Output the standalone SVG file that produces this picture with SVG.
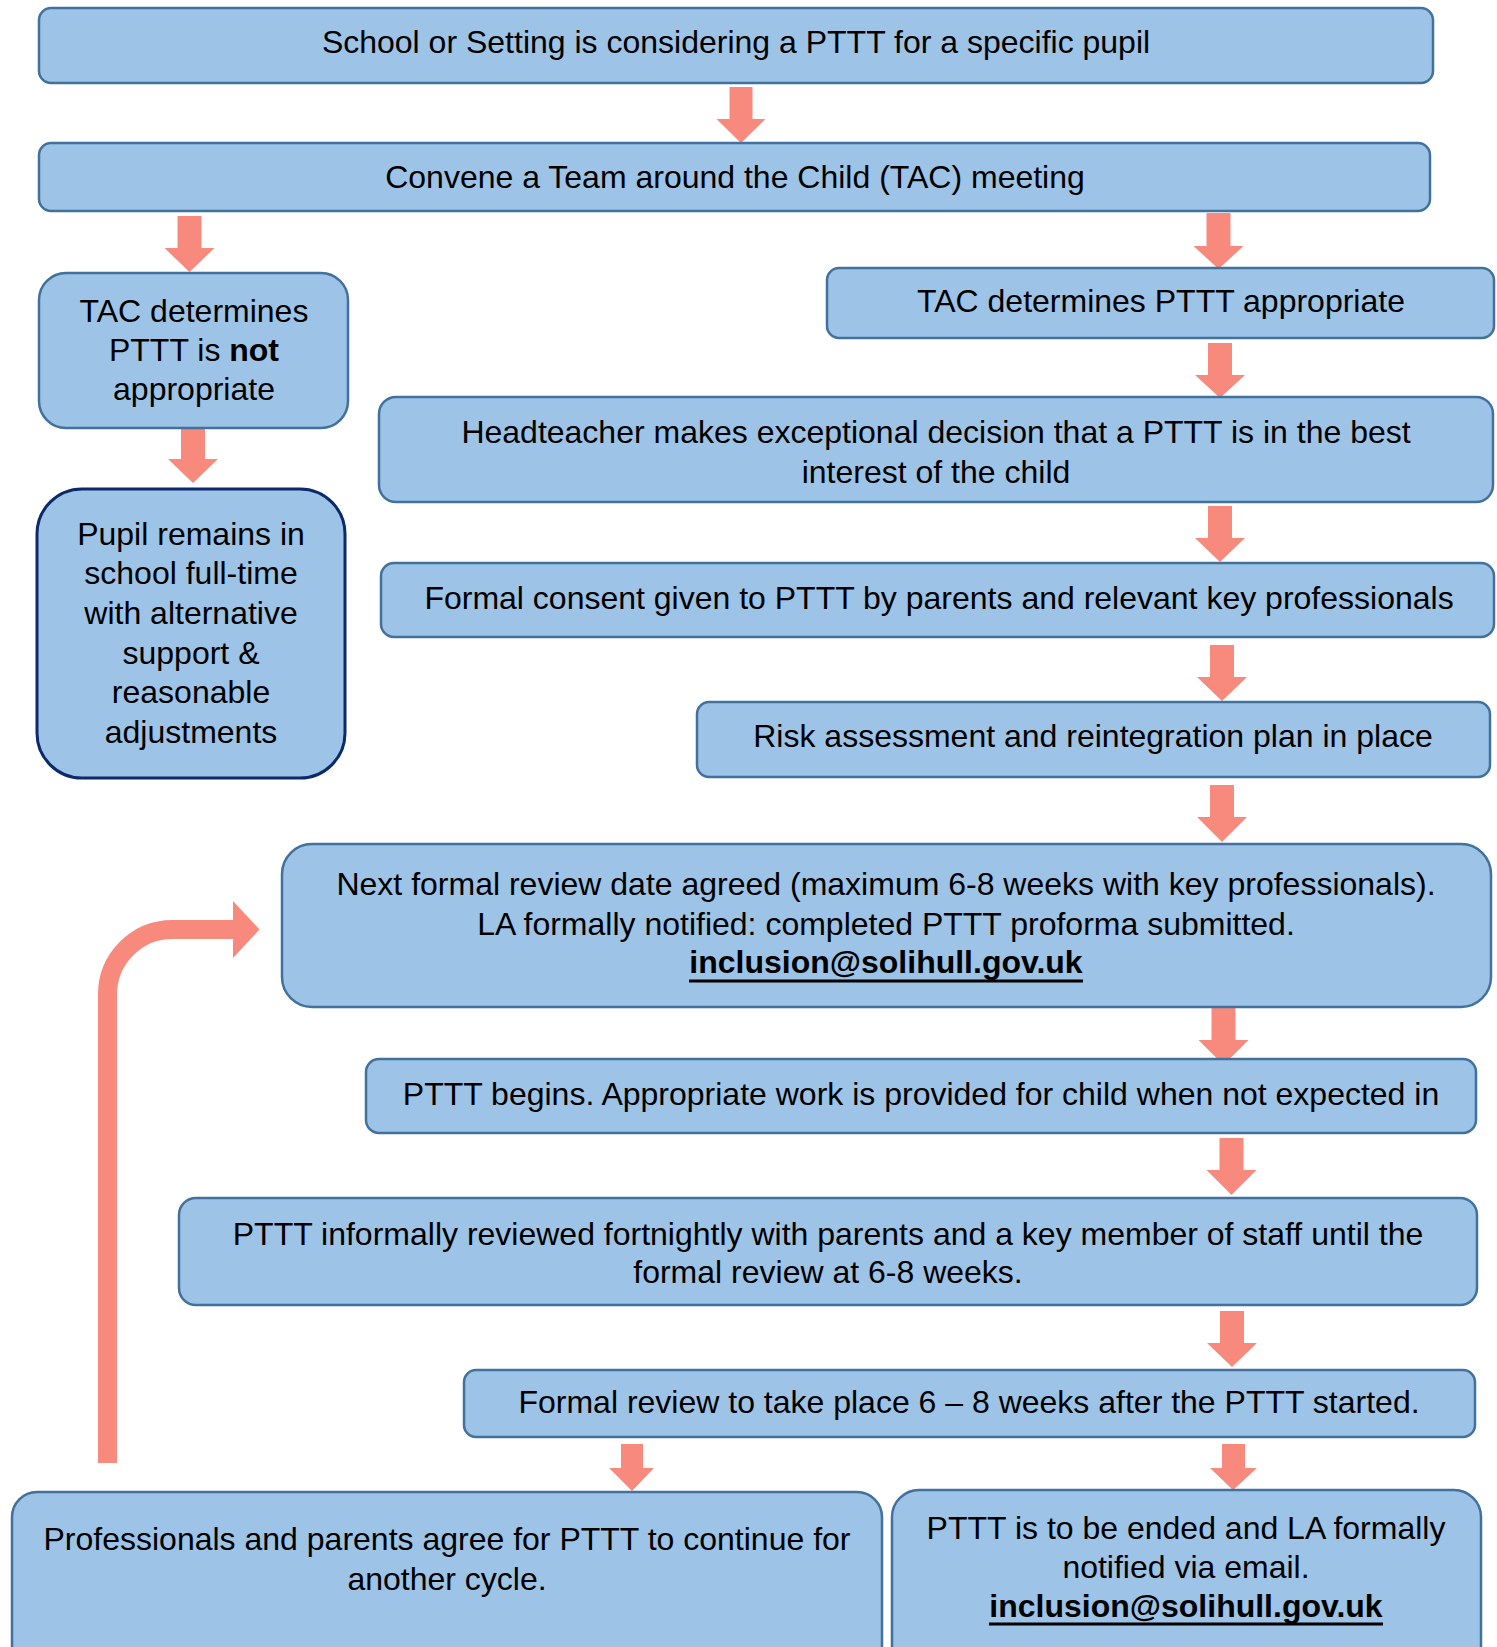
<svg xmlns="http://www.w3.org/2000/svg" width="1497" height="1647" viewBox="0 0 1497 1647">
<style>
.box{fill:#9DC3E6;stroke:#41719C;stroke-width:2.5}
.box2{fill:#9DC3E6;stroke:#0C2A6A;stroke-width:3}
.t{font-family:"Liberation Sans",Arial,sans-serif;font-size:32px;fill:#000;text-anchor:middle}
.b{font-weight:bold}
.u{font-weight:bold}
.ul{stroke:#000;stroke-width:3}
.arr{fill:#F78A7D}
</style>
<rect width="1497" height="1647" fill="#fff"/>
<g id="connectors">
<polygon class="arr" points="729.5,87 752.5,87 752.5,119 765.5,119 741,143 716.5,119 729.5,119"/>
<polygon class="arr" points="177.5,216 201.5,216 201.5,248 214.5,248 189.5,272 164.5,248 177.5,248"/>
<polygon class="arr" points="1206.5,213 1230.5,213 1230.5,246 1243.5,246 1218.5,269 1193.5,246 1206.5,246"/>
<polygon class="arr" points="1208,343 1232,343 1232,375 1245,375 1220,398 1195,375 1208,375"/>
<polygon class="arr" points="181,428 205,428 205,459 218,459 193,483 168,459 181,459"/>
<polygon class="arr" points="1208,506 1232,506 1232,538 1245,538 1220,562 1195,538 1208,538"/>
<polygon class="arr" points="1210,645 1234,645 1234,677 1247,677 1222,701 1197,677 1210,677"/>
<polygon class="arr" points="1210,785 1234,785 1234,817 1247,817 1222,842 1197,817 1210,817"/>
<polygon class="arr" points="1211.5,1008 1235.5,1008 1235.5,1040 1248.5,1040 1223.5,1065 1198.5,1040 1211.5,1040"/>
<polygon class="arr" points="1219.5,1138 1243.5,1138 1243.5,1170 1256.5,1170 1231.5,1195 1206.5,1170 1219.5,1170"/>
<polygon class="arr" points="1220,1311 1244,1311 1244,1343 1257,1343 1232,1367 1207,1343 1220,1343"/>
<polygon class="arr" points="621,1444 643,1444 643,1468 654,1468 632,1491 609,1468 621,1468"/>
<polygon class="arr" points="1222,1444 1245,1444 1245,1468 1257,1468 1233,1490 1210,1468 1222,1468"/>
<path d="M107.5,1463 V995 A65,65 0 0 1 172.5,929.5 H235" fill="none" stroke="#F78A7D" stroke-width="19"/>
<polygon class="arr" points="233,901 259.5,929.5 233,958"/>
</g>
<g id="n1"><rect class="box" x="39" y="8" width="1394" height="75" rx="12"/><text class="t" x="736" y="53">School or Setting is considering a PTTT for a specific pupil</text></g>
<g id="n2"><rect class="box" x="39" y="143" width="1391" height="68" rx="12"/><text class="t" x="735" y="188">Convene a Team around the Child (TAC) meeting</text></g>
<g id="n3"><rect class="box" x="39" y="273" width="309" height="155" rx="27"/><text class="t" x="194" y="322">TAC determines</text><text class="t" x="194" y="361">PTTT is <tspan class="b">not</tspan></text><text class="t" x="194" y="400">appropriate</text></g>
<g id="n4"><rect class="box" x="827" y="268" width="667" height="70" rx="12"/><text class="t" x="1161" y="312">TAC determines PTTT appropriate</text></g>
<g id="n5"><rect class="box2" x="37" y="489" width="308" height="289" rx="45"/><text class="t" x="191" y="545">Pupil remains in</text><text class="t" x="191" y="584">school full-time</text><text class="t" x="191" y="624">with alternative</text><text class="t" x="191" y="664">support &amp;</text><text class="t" x="191" y="703">reasonable</text><text class="t" x="191" y="743">adjustments</text></g>
<g id="n6"><rect class="box" x="379" y="397" width="1114" height="105" rx="17"/><text class="t" x="936" y="443">Headteacher makes exceptional decision that a PTTT is in the best</text><text class="t" x="936" y="483">interest of the child</text></g>
<g id="n7"><rect class="box" x="381" y="563" width="1113" height="74" rx="13"/><text class="t" x="939" y="609">Formal consent given to PTTT by parents and relevant key professionals</text></g>
<g id="n8"><rect class="box" x="697" y="702" width="793" height="75" rx="12"/><text class="t" x="1093" y="747">Risk assessment and reintegration plan in place</text></g>
<g id="n9"><rect class="box" x="282" y="844" width="1209" height="163" rx="30"/><text class="t" x="886" y="895">Next formal review date agreed (maximum 6-8 weeks with key professionals).</text><text class="t" x="886" y="935">LA formally notified: completed PTTT proforma submitted.</text><text class="t u" x="886" y="973">inclusion@solihull.gov.uk</text><line class="ul" x1="689" y1="981" x2="1083" y2="981"/></g>
<g id="n10"><rect class="box" x="366" y="1059" width="1110" height="74" rx="13"/><text class="t" x="921" y="1105">PTTT begins. Appropriate work is provided for child when not expected in</text></g>
<g id="n11"><rect class="box" x="179" y="1198" width="1298" height="107" rx="17"/><text class="t" x="828" y="1245">PTTT informally reviewed fortnightly with parents and a key member of staff until the</text><text class="t" x="828" y="1283">formal review at 6-8 weeks.</text></g>
<g id="n12"><rect class="box" x="464" y="1370" width="1011" height="67" rx="12"/><text class="t" x="969" y="1413">Formal review to take place 6 – 8 weeks after the PTTT started.</text></g>
<g id="n13"><rect class="box" x="12" y="1492" width="870" height="190" rx="25"/><text class="t" x="447" y="1550">Professionals and parents agree for PTTT to continue for</text><text class="t" x="447" y="1590">another cycle.</text></g>
<g id="n14"><rect class="box" x="892" y="1490" width="589" height="190" rx="27"/><text class="t" x="1186" y="1539">PTTT is to be ended and LA formally</text><text class="t" x="1186" y="1578">notified via email.</text><text class="t u" x="1186" y="1617">inclusion@solihull.gov.uk</text><line class="ul" x1="989" y1="1624" x2="1383" y2="1624"/></g>
</svg>
